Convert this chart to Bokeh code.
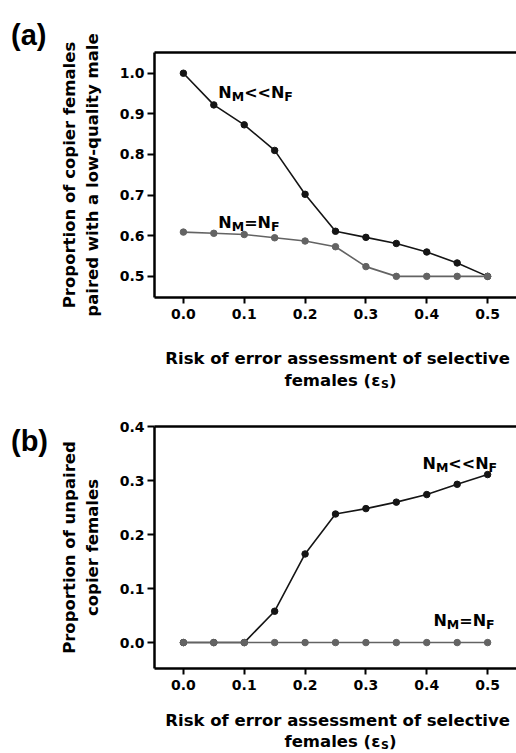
from bokeh.plotting import figure
from bokeh.models import Range1d, FixedTicker, NumeralTickFormatter, Label, LinearAxis
from bokeh.layouts import column, row
from bokeh.core.properties import value
from bokeh.embed import file_html
from bokeh.resources import INLINE

# ---------------- data ----------------
eps = [0.0, 0.05, 0.10, 0.15, 0.20, 0.25, 0.30, 0.35, 0.40, 0.45, 0.50]
paired_unequal = [1.00, 0.922, 0.873, 0.810, 0.702, 0.611, 0.596, 0.581, 0.560, 0.533, 0.500]
paired_equal = [0.609, 0.606, 0.603, 0.595, 0.587, 0.573, 0.524, 0.500, 0.500, 0.500, 0.500]
unpaired_unequal = [0.0, 0.0, 0.0, 0.058, 0.164, 0.238, 0.248, 0.260, 0.274, 0.293, 0.311]
unpaired_equal = [0.0, 0.0, 0.0, 0.0, 0.0, 0.0, 0.0, 0.0, 0.0, 0.0, 0.0]
x_ticks = [0.0, 0.1, 0.2, 0.3, 0.4, 0.5]
y_ticks_a = [0.5, 0.6, 0.7, 0.8, 0.9, 1.0]
y_ticks_b = [0.0, 0.1, 0.2, 0.3, 0.4]
x_title_1 = "Risk of error assessment of  selective"
x_title_2 = [("females (ε", 0), ("S", 1), (")", 0)]   # (text, is_subscript)

FONT = "DejaVu Sans"
PFONT = "Liberation Sans"
BLACK = "#151515"
GRAY = "#636363"
TICK_SIZE = "14px"
LAB_SIZE = 16.5
SUB_SIZE = 11

# DejaVu Sans Bold advance widths (per 1000 em)
W = {' ': 348, '(': 457, ')': 457, '<': 838, '=': 838, 'N': 837, 'M': 995, 'F': 683,
     'S': 720, 'e': 678, 'f': 435, 'm': 1042, 'a': 675, 'l': 343, 's': 595, 'ε': 600}


def tw(text, size):
    return sum(W.get(c, 650) for c in text) * size / 1000.0


def label(p, x, y, text, size, dx=0.0, dy=0.0):
    p.add_layout(Label(x=x, y=y, x_offset=dx, y_offset=dy, text=text,
                       text_font=FONT, text_font_style="bold", text_font_size=f"{size}px",
                       text_color="black", text_baseline="alphabetic", text_align="left"))


def n_label(p, x, y, rel):
    pieces = [("N", 16, 0), ("M", 12.5, 4), (rel, 16, 0), ("N", 16, 0), ("F", 12.5, 4)]
    off = 0.0
    for t, s, d in pieces:
        label(p, x, y, t, s, dx=off, dy=-d)
        off += tw(t, s)


def make_fig(width, height, ymin, ymax, yticks, border_left, border_top, border_bottom, ylabel):
    p = figure(width=width, height=height, output_backend="svg", toolbar_location=None,
               title=None,
               x_range=Range1d(-0.0475, 0.5475), y_range=Range1d(ymin, ymax),
               min_border_left=border_left, min_border_right=0,
               min_border_top=border_top, min_border_bottom=border_bottom)
    p.outline_line_color = None
    p.grid.visible = False
    p.background_fill_color = "white"
    p.border_fill_color = "white"
    for ax in (p.xaxis[0], p.yaxis[0]):
        ax.axis_line_width = 2.5
        ax.axis_line_color = "black"
        ax.major_tick_line_width = 2
        ax.major_tick_line_color = "black"
        ax.major_tick_out = 7
        ax.major_tick_in = 0
        ax.minor_tick_line_color = None
        ax.major_label_text_font = FONT
        ax.major_label_text_font_style = "bold"
        ax.major_label_text_font_size = TICK_SIZE
        ax.major_label_text_color = "black"
        ax.formatter = NumeralTickFormatter(format="0.0")
    p.xaxis[0].ticker = FixedTicker(ticks=x_ticks)
    p.yaxis[0].ticker = FixedTicker(ticks=yticks)
    p.xaxis[0].major_tick_out = 6
    p.xaxis[0].major_label_standoff = 5
    p.yaxis[0].major_label_standoff = 3
    p.yaxis[0].axis_label = ylabel
    p.yaxis[0].axis_label_text_font = FONT
    p.yaxis[0].axis_label_text_font_style = "bold"
    p.yaxis[0].axis_label_text_font_size = f"{LAB_SIZE}px"
    p.yaxis[0].axis_label_text_color = "black"
    p.yaxis[0].axis_label_standoff = 15
    top = LinearAxis(ticker=FixedTicker(ticks=[]), axis_line_width=2.5, axis_line_color="black",
                     major_tick_line_color=None, minor_tick_line_color=None,
                     major_label_text_font_size="0px")
    p.add_layout(top, "above")
    return p


def blank(width, height):
    p = figure(width=width, height=height, output_backend="svg", toolbar_location=None,
               title=None,
               x_range=Range1d(0, width), y_range=Range1d(0, height),
               x_axis_type=None, y_axis_type=None,
               min_border_left=0, min_border_right=0, min_border_top=0, min_border_bottom=0)
    p.outline_line_color = None
    p.grid.visible = False
    p.background_fill_color = "white"
    p.border_fill_color = "white"
    return p


def tag_fig(height, text, base_from_top):
    p = blank(56, height)
    p.text(x=[10.5], y=[height - base_from_top], text=[text], text_font=value(PFONT),
           text_font_style="bold", text_font_size="29px", text_color="black",
           text_baseline="alphabetic", text_align="left")
    return p


def title_strip(height, base1, base2, cx=340.0):
    p = blank(516, height)
    p.text(x=[cx], y=[height - base1], text=[x_title_1], text_font=value(FONT),
           text_font_style="bold", text_font_size=f"{LAB_SIZE}px", text_color="black",
           text_baseline="alphabetic", text_align="center")
    sizes = [SUB_SIZE if sub else LAB_SIZE for t, sub in x_title_2]
    total = sum(tw(t, s) for (t, sub), s in zip(x_title_2, sizes))
    pos = cx - total / 2.0
    for (t, sub), s in zip(x_title_2, sizes):
        p.text(x=[pos], y=[height - base2 - (4 if sub else 0)], text=[t], text_font=value(FONT),
               text_font_style="bold", text_font_size=f"{s}px", text_color="black",
               text_baseline="alphabetic", text_align="left")
        pos += tw(t, s)
    return p


def series(p, y1, y2):
    p.line(eps, y1, line_color=BLACK, line_width=1.6)
    p.scatter(eps, y1, size=6.5, fill_color=BLACK, line_color=BLACK)
    p.line(eps, y2, line_color=GRAY, line_width=1.6)
    p.scatter(eps, y2, size=6.5, fill_color=GRAY, line_color=GRAY)


# ---------------- panel (a) ----------------
HA = 334
pa = make_fig(460, HA, 0.448, 1.051, y_ticks_a, 97, 52, HA - 297,
              "Proportion of copier females\npaired with a low-quality male")
series(pa, paired_unequal, paired_equal)
n_label(pa, 0.0574, 0.952, "<<")
n_label(pa, 0.0574, 0.632, "=")
tagA = tag_fig(HA, "(a)", 34)
stripA = title_strip(392 - HA, 358 - HA, 380 - HA)

# ---------------- panel (b) ----------------
TB = 392
HB = 311
pb = make_fig(460, HB, -0.048, 0.4, y_ticks_b, 97, 426 - TB, HB - (668 - TB),
              "Proportion of unpaired\ncopier females")
series(pb, unpaired_unequal, unpaired_equal)
n_label(pb, 0.393, 0.332, "<<")
n_label(pb, 0.411, 0.041, "=")
tagB = tag_fig(HB, "(b)", 440.6 - TB)
stripB = title_strip(753 - TB - HB, 720 - TB - HB, 741 - TB - HB)

# tag figures are wrapped in their own column so that their frames are not
# aligned with the neighbouring plot's frame
layout = column(row(column(tagA), pa, spacing=0), stripA,
                row(column(tagB), pb, spacing=0), stripB, spacing=0)
open("out.html", "w").write(file_html(layout, INLINE))
